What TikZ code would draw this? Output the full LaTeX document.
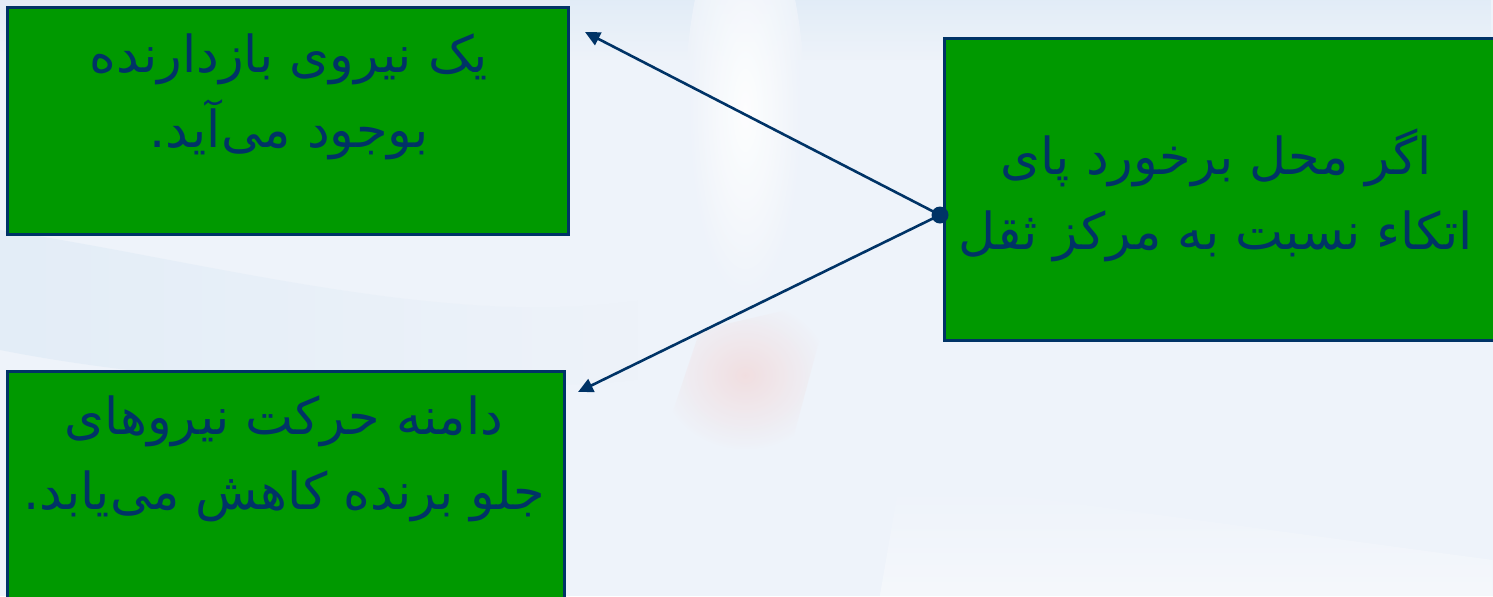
\documentclass[tikz,border=0pt]{standalone}
\usepackage{fontspec}
\newfontfamily\arabicfont[Script=Arabic]{DejaVu Sans}
\TeXXeTstate=1
\usetikzlibrary{arrows.meta,fadings}
\definecolor{bgblue}{HTML}{EEF3FA}
\definecolor{skyblue}{HTML}{D6E6F4}
\definecolor{boxgreen}{HTML}{009900}
\definecolor{navy}{HTML}{003366}
\definecolor{faintred}{HTML}{F3D6D6}
\tikzset{
  greenbox/.style={draw=navy, line width=1.3pt, fill=boxgreen, anchor=north west, inner sep=0pt},
  fatext/.style={text=navy, align=center, font=\arabicfont\fontsize{25.5}{37.5}\selectfont, inner sep=0pt},
  connector/.style={draw=navy, line width=1.3pt, -{Triangle[length=7.5pt,width=7pt]}},
}
\begin{document}
\begin{tikzpicture}[x=0.5pt,y=-0.5pt]
\useasboundingbox (0,0) rectangle (1493,596);
\clip (0,0) rectangle (1493,596);
% background (faded photo)
\fill[bgblue] (0,0) rectangle (1493,596);
\fill[skyblue, opacity=0.5, path fading=south] (0,0) rectangle (1493,60);
\fill[skyblue, opacity=0.45, path fading=east] (0,230) .. controls (200,260) and (450,330) .. (640,300) -- (640,380) .. controls (400,400) and (150,380) .. (0,350) -- cycle;
\shade[inner color=white, outer color=bgblue, opacity=0.9] (745,110) ellipse (60 and 200);
\shade[inner color=faintred, outer color=bgblue, opacity=0.7] (660,450) -- (700,330) -- (830,300) -- (790,450) -- cycle;
\fill[white, opacity=0.4, path fading=north] (900,480) -- (1493,560) -- (1493,596) -- (880,596) -- cycle;
% boxes
\node[greenbox, minimum width=280.5pt, minimum height=113.5pt] (top) at (6,6) {};
\node[greenbox, minimum width=278.5pt, minimum height=120pt] (bottom) at (6,370) {};
\node[greenbox, minimum width=280pt, minimum height=151pt] (right) at (943,37) {};
% texts
\node[fatext] (toptext) at (289,97) {\beginR یک نیروی بازدارنده\endR\\\beginR بوجود می‌آید.\endR};
\node[fatext] (bottomtext) at (284,459) {\beginR دامنه حرکت نیروهای\endR\\\beginR جلو برنده کاهش می‌یابد.\endR};
\node[fatext] (righttext) at (1216,195) {\beginR اگر محل برخورد پای\endR\\\beginR اتکاء نسبت به مرکز ثقل\endR};
% connectors
\coordinate (dot) at (940,215);
\coordinate (tipA) at (585,32);
\coordinate (tipB) at (578,392);
\draw[connector] (dot) -- (tipA);
\draw[connector] (dot) -- (tipB);
\fill[navy] (dot) circle (8.5);
\end{tikzpicture}
\end{document}
